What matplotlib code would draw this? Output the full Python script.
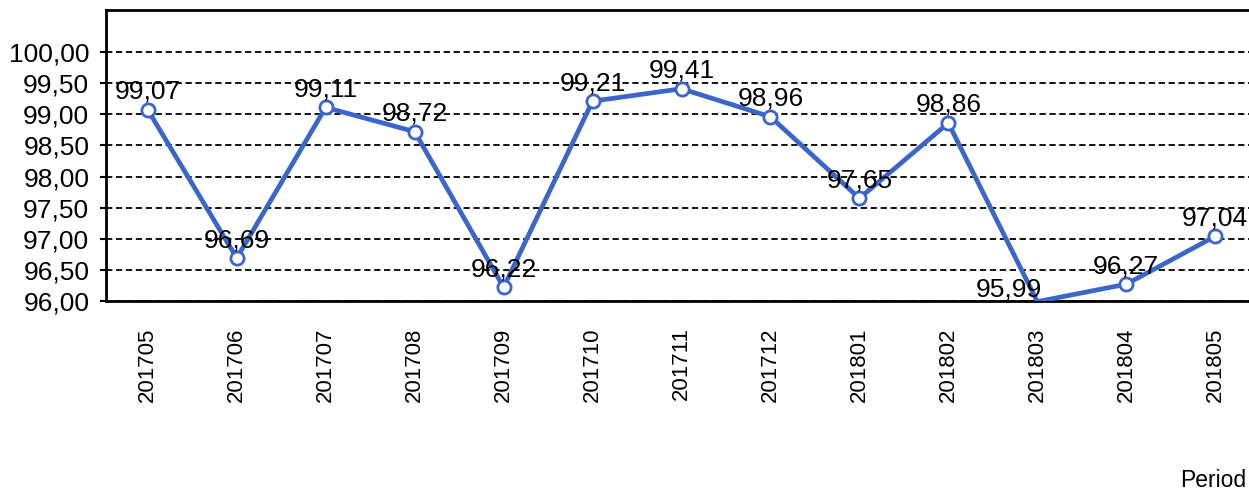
import matplotlib
matplotlib.use("Agg")
import matplotlib.pyplot as plt

# data
periods = ["201705", "201706", "201707", "201708", "201709", "201710", "201711",
           "201712", "201801", "201802", "201803", "201804", "201805"]
values = [99.07, 96.69, 99.11, 98.72, 96.22, 99.21, 99.41,
          98.96, 97.65, 98.86, 95.99, 96.27, 97.04]
yticks = [96.0, 96.5, 97.0, 97.5, 98.0, 98.5, 99.0, 99.5, 100.0]

plt.rcParams['font.family'] = ['Liberation Sans', 'DejaVu Sans']

fig = plt.figure(figsize=(12.49, 4.91), dpi=100)
ax = fig.add_axes([106 / 1249, 190 / 491, 1 - 106 / 1249, 291 / 491])

line_col = '#3A66CC'
x = list(range(len(periods)))
ax.plot(x, values, color=line_col, linewidth=3.4, zorder=3)
# markers only where they fall inside the plot area
mx = [i for i, v in enumerate(values) if v >= 96.0]
my = [values[i] for i in mx]
ax.plot(mx, my, linestyle='none', marker='o', markersize=9.5,
        markerfacecolor='white', markeredgecolor=line_col, markeredgewidth=2,
        zorder=3)

def fmt(v):
    return f"{v:.2f}".replace('.', ',')

for i, v in enumerate(values):
    if periods[i] == "201803":
        off = (-28, 12)
    else:
        off = (0, 18)
    ax.annotate(fmt(v), (i, v), textcoords='offset pixels', xytext=off,
                ha='center', va='center', fontsize=19, zorder=4,
                annotation_clip=False)

ax.set_xlim(-0.47, 12.38)
ax.set_ylim(96.0, 100.675)
ax.set_yticks(yticks)
ax.set_yticklabels([fmt(t) for t in yticks], fontsize=19)
ax.set_xticks(x)
ax.set_xticklabels(periods, rotation=90, fontsize=16)
ax.tick_params(axis='x', length=0, pad=19)
ax.tick_params(axis='y', length=4, width=1.5, pad=8)

ax.grid(axis='y', color='black', linestyle=(0, (3.5, 2)), linewidth=1.3)
ax.set_axisbelow(True)

for s in ['left', 'bottom', 'top']:
    ax.spines[s].set_linewidth(2)
ax.spines['right'].set_visible(False)

fig.text(1246 / 1249, 1 - 487 / 491, "Period", ha='right', va='baseline', fontsize=16.5)

fig.savefig("out.png", dpi=100)
